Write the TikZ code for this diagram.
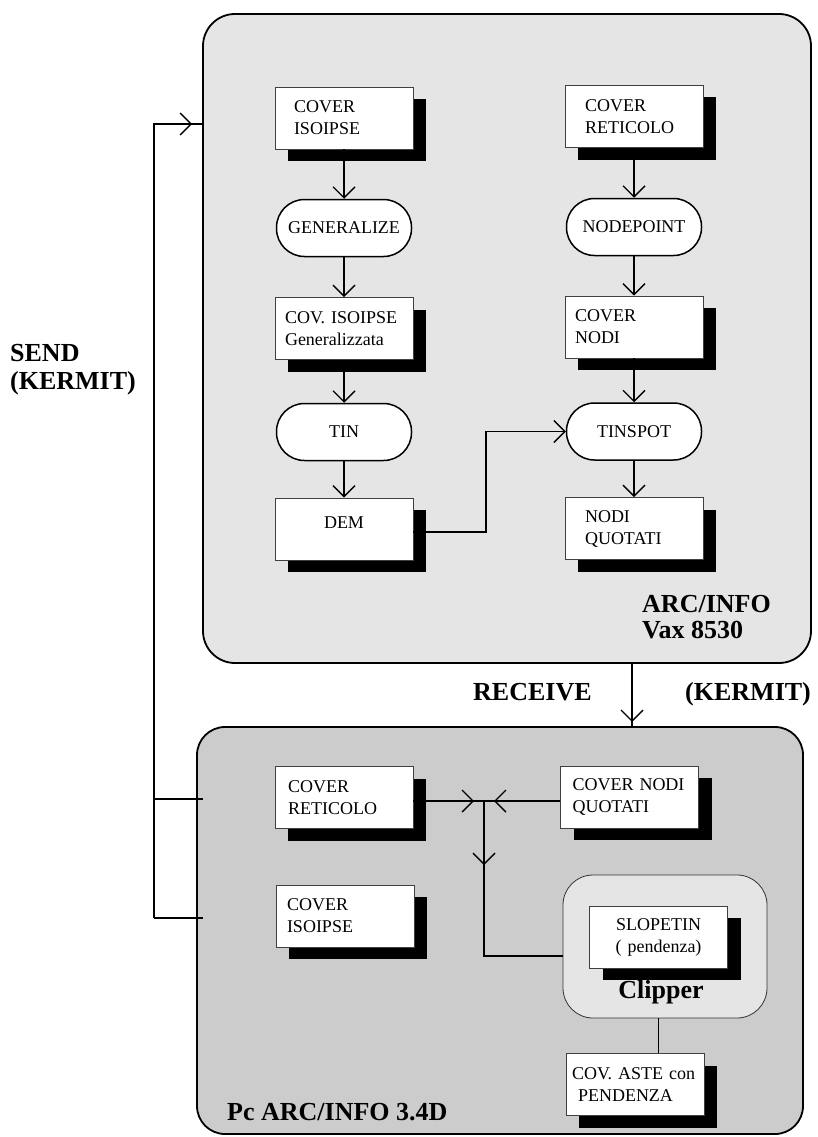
\documentclass[tikz,border=0pt]{standalone}
\usepackage{fontspec}
\setmainfont{Liberation Serif}
\usetikzlibrary{arrows.meta,shadows,calc}
\newcommand\fsn{\fontsize{18}{22}\selectfont}
\newcommand\fsb{\fontsize{26}{28}\selectfont\bfseries}
\definecolor{lg}{gray}{0.9}
\definecolor{mg}{gray}{0.8}
\begin{document}
\begin{tikzpicture}[x=1pt,y=-1pt,
  panel/.style={draw, line width=1.8pt, rounded corners=32pt, inner sep=0pt},
  box/.style={draw=black!75, line width=0.8pt, fill=white, minimum width=138pt,
    minimum height=62pt, align=left, font=\fsn, inner ysep=2pt,
    drop shadow={shadow xshift=13pt, shadow yshift=-12pt, fill=black, opacity=1}},
  ins/.style 2 args={inner xsep=#1pt, text width=#2pt},
  stad/.style={draw, line width=1.5pt, fill=white, rounded corners=28pt,
    minimum width=135pt, minimum height=57pt, font=\fsn, inner sep=0pt},
  clipbox/.style={draw=black!80, line width=0.8pt, fill=lg, rounded corners=30pt,
    minimum width=204pt, minimum height=143pt, inner sep=0pt},
  lbl/.style={font=\fsb, inner sep=0pt, anchor=base west},
  ln/.style={line width=1.4pt},
  arr/.style={line width=1.4pt, -{Straight Barb[length=11pt,width=22pt]}}
]
\useasboundingbox (0,0) rectangle (817,1137);

% panels
\node[panel, fill=lg, minimum width=608pt, minimum height=649pt] (top) at (507,338.5) {};
\node[panel, fill=mg, minimum width=606pt, minimum height=407pt, rounded corners=28pt] (bot) at (500,930.5) {};
\node[clipbox] (clip) at (665,946.5) {};

% top panel, left column
\node[box, ins={19}{100}] (cis1) at (344,118) {COVER\\ISOIPSE};
\node[stad] (gen) at (344,228) {GENERALIZE};
\node[box, ins={10}{118}] (covgen) at (344,328.5) {COV. ISOIPSE\\Generalizzata};
\node[stad] (tin) at (344,432) {TIN};
\node[box, ins={10}{118}, align=center, text height=12pt, text depth=14pt, inner ysep=18pt] (dem) at (344,529) {DEM};

% top panel, right column
\node[box, ins={20}{98}] (cret) at (634,116.5) {COVER\\RETICOLO};
\node[stad] (nodep) at (634,227) {NODEPOINT};
\node[box, ins={10}{118}] (cnodi) at (634,327) {COVER\\NODI};
\node[stad] (tinspot) at (634,431.5) {TINSPOT};
\node[box, ins={20}{98}] (nq) at (634,528.5) {NODI\\QUOTATI};

% bottom panel
\node[box, ins={13}{112}] (bret) at (344,797.5) {COVER\\RETICOLO};
\node[box, ins={11}{116}] (bcis) at (345,916) {COVER\\ISOIPSE};
\node[box, ins={12}{114}] (bnq) at (629.5,797) {COVER NODI\\QUOTATI};
\node[box, ins={10}{117}, align=center] (slope) at (658.5,937) {SLOPETIN\\( pendenza)};
\node[box, ins={6}{126}] (aste) at (635,1084.5) {COV. ASTE con\\\ PENDENZA};

% connectors top panel
\draw[arr] (cis1.south) -- (gen.north);
\draw[arr] (gen.south) -- (covgen.north);
\draw[arr] (covgen.south) -- (tin.north);
\draw[arr] (tin.south) -- (dem.north);
\draw[arr] (cret.south) -- (nodep.north);
\draw[arr] (nodep.south) -- (cnodi.north);
\draw[arr] (cnodi.south) -- (tinspot.north);
\draw[arr] (tinspot.south) -- (nq.north);
\coordinate (dx) at (486,0);
\draw[arr] ([yshift=-3pt]dem.east) -- ([yshift=-3pt]dem.east -| dx) |- (tinspot.west);

% send lines
\coordinate (s1) at (154,124);
\coordinate (s3) at (154,799);
\coordinate (s4) at (154,918);
\coordinate (e3) at (203,799);
\coordinate (e4) at (203,918);
\coordinate (st) at (192,124);
\draw[ln] (s4) -- (s1) -- (top.west |- s1);
\draw[arr] (s1) -- (st);
\draw[ln] (s3) -- (e3);
\draw[ln] (s4) -- (e4);

% receive
\coordinate (rx) at (632,0);
\coordinate (rt) at (632,722);
\draw[ln] (top.south -| rx) -- (bot.north -| rx);
\draw[arr] (top.south -| rx) -- (rt);

% bottom junction
\coordinate (j) at (484,801);
\coordinate (jc) at (484,956);
\coordinate (ja) at (474,801);
\coordinate (jb) at (494,801);
\coordinate (jd) at (484,865);
\draw[ln] (bret.east |- j) -- (bnq.west |- j);
\draw[arr] (bret.east |- j) -- (ja);
\draw[arr] (bnq.west |- j) -- (jb);
\draw[ln] (j) -- (jc) -- (clip.west |- jc);
\draw[arr] (j) -- (jd);
\draw[ln] (clip.south -| slope) -- (aste.north -| slope);

% labels
\node[lbl] (send1) at (10,361) {SEND};
\node[lbl] (send2) at (10,389) {(KERMIT)};
\node[lbl] (arc1) at (642,612) {ARC/INFO};
\node[lbl] (arc2) at (642,638) {Vax 8530};
\node[lbl] (recv) at (473,700) {RECEIVE};
\node[lbl] (kerm) at (685,700) {(KERMIT)};
\node[lbl, anchor=base] (cliplbl) at (661,998) {Clipper};
\node[lbl] (pc) at (227,1120) {Pc ARC/INFO 3.4D};
\end{tikzpicture}
\end{document}
